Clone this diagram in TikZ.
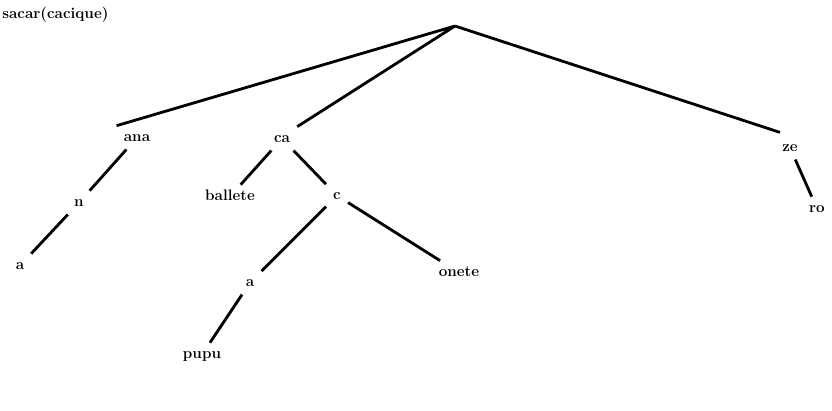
\documentclass[tikz,border=0pt]{standalone}
\begin{document}
\begin{tikzpicture}[x=0.03cm, y=-0.03cm, line width=2.4pt,
    word/.style={font=\fontsize{13}{15}\selectfont\bfseries, inner sep=5pt, text height=1.6ex, text depth=0.25ex, anchor=base}]
    \useasboundingbox (0,0) rectangle (832,410);
    \node[word, anchor=base west, inner sep=0pt] (title) at (1,18) {sacar(cacique)};

    \coordinate (root) at (455,26);
    \node[word] (ana) at (137,141) {ana};
    \node[word] (ca) at (282,142) {ca};
    \node[word] (ze) at (790,151) {ze};
    \node[word] (n) at (79,206) {n};
    \node[word] (a1) at (20,269) {a};
    \node[word] (ballete) at (230,200) {ballete};
    \node[word] (c) at (337,199) {c};
    \node[word] (a2) at (250,286) {a};
    \node[word] (onete) at (459,276) {onete};
    \node[word] (pupu) at (202,358) {pupu};
    \node[word] (ro) at (817,212) {ro};

    \draw (root)--(ana.north west) (root)--(ca.north east);
    \draw[shorten >=9pt] (root)--(ze.north);
    \draw (ana)--(n) (n)--(a1) (ca)--(ballete) (ca)--(c) (c)--(a2) (c)--(onete) (a2)--(pupu) (ze)--(ro);
\end{tikzpicture}
\end{document}
